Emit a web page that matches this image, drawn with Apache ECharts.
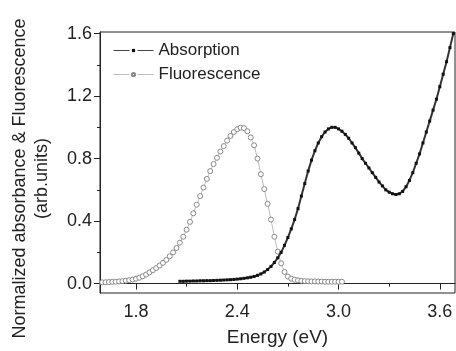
<!DOCTYPE html>
<html>
<head>
<meta charset="utf-8">
<script src="https://cdn.jsdelivr.net/npm/echarts@6/dist/echarts.min.js"></script>
<style>
html, body { margin: 0; padding: 0; background: #fff; }
#con { width: 456px; height: 351px; }
</style>
</head>
<body>
<div id="con"></div>
<script>
// absorption
var absEnergy = [2.06,2.08,2.10,2.12,2.14,2.16,2.18,2.20,2.22,2.24,2.26,2.28,2.30,2.32,2.34,2.36,2.38,2.40,
    2.42,2.44,2.46,2.48,2.50,2.52,2.54,2.56,2.58,2.60,2.62,2.64,2.66,2.68,2.70,2.72,2.74,2.76,2.78,2.80,
    2.82,2.84,2.86,2.88,2.90,2.92,2.94,2.96,2.98,3.00,3.02,3.04,3.06,3.08,3.10,3.12,3.14,3.16,3.18,3.20,
    3.22,3.24,3.26,3.28,3.30,3.32,3.34,3.36,3.38,3.40,3.42,3.44,3.46,3.48,3.50,3.52,3.54,3.56,3.58,3.60,
    3.62,3.64,3.66,3.68];
var absValue = [0.015,0.015,0.016,0.016,0.017,0.017,0.018,0.018,0.019,0.019,0.020,0.021,0.022,0.023,0.024,0.025,0.027,0.029,
    0.031,0.034,0.037,0.041,0.046,0.053,0.062,0.074,0.090,0.110,0.135,0.165,0.200,0.245,0.295,0.35,0.41,0.48,0.56,0.64,
    0.72,0.79,0.85,0.90,0.94,0.97,0.99,1.00,1.00,0.99,0.975,0.955,0.93,0.90,0.87,0.835,0.80,0.77,0.74,0.71,
    0.68,0.65,0.625,0.60,0.585,0.575,0.57,0.575,0.59,0.62,0.66,0.71,0.77,0.83,0.90,0.97,1.04,1.11,1.18,1.26,
    1.34,1.42,1.51,1.60];

// fluorescence
var fluEnergy = [1.60,1.62,1.64,1.66,1.68,1.70,1.72,1.74,1.76,1.78,1.80,1.82,1.84,1.86,1.88,1.90,1.92,1.94,
    1.96,1.98,2.00,2.02,2.04,2.06,2.08,2.10,2.12,2.14,2.16,2.18,2.20,2.22,2.24,2.26,2.28,2.30,2.32,2.34,
    2.36,2.38,2.40,2.42,2.44,2.46,2.48,2.50,2.52,2.54,2.56,2.58,2.60,2.62,2.64,2.66,2.68,2.70,2.72,2.74,
    2.76,2.78,2.80,2.82,2.84,2.86,2.88,2.90,2.92,2.94,2.96,2.98,3.00,3.02];
var fluValue = [0.008,0.009,0.010,0.011,0.012,0.014,0.016,0.019,0.022,0.026,0.031,0.038,0.047,0.058,0.072,0.086,0.100,0.116,
    0.133,0.152,0.175,0.200,0.228,0.262,0.300,0.345,0.395,0.450,0.505,0.560,0.615,0.670,0.720,0.765,0.805,0.845,0.880,0.915,
    0.945,0.970,0.988,0.998,0.995,0.975,0.935,0.885,0.800,0.700,0.605,0.510,0.410,0.300,0.205,0.130,0.075,0.045,0.032,0.025,
    0.021,0.018,0.016,0.015,0.014,0.014,0.013,0.013,0.012,0.012,0.012,0.012,0.012,0.012];

var xMajor = [1.8, 2.4, 3.0, 3.6];
var xMinor = [2.1, 2.7, 3.3];
var yMajor = [0.0, 0.4, 0.8, 1.2, 1.6];
var yMinor = [0.2, 0.6, 1.0, 1.4];

var zip = function(xs, ys) {
    var out = [];
    for (var i = 0; i < xs.length; i++) {
        out.push([xs[i], ys[i]]);
    }
    return out;
};

var font = 'Liberation Sans, Arial, sans-serif';
var ink = '#222';

var myChart = echarts.init(document.getElementById('con'));

var xMin = 1.587, xMax = 3.69, yMin = -0.06, yMax = 1.61;

var option = {
    animation: false,
    grid: {
        left: 100, top: 32, right: 1, bottom: 58,
        outerBoundsMode: 'none',
        show: true, borderColor: ink, borderWidth: 1
    },
    legend: {
        orient: 'vertical',
        left: 108, top: 37,
        itemWidth: 40, itemHeight: 4, itemGap: 7,
        textStyle: { fontFamily: font, fontSize: 17, color: ink },
        data: [
            { name: 'Absorption', lineStyle: { color: '#444', width: 1, type: [16, 8] } },
            { name: 'Fluorescence', lineStyle: { color: '#bbb', width: 1, type: [16, 8] } }
        ]
    },
    xAxis: [
        {
            type: 'value', min: xMin, max: xMax,
            name: 'Energy (eV)', nameLocation: 'middle', nameGap: 35,
            nameTextStyle: { fontFamily: font, fontSize: 19, color: ink },
            axisLine: { lineStyle: { color: ink } },
            axisTick: { show: true, inside: false, length: 6, customValues: xMajor, lineStyle: { color: ink } },
            axisLabel: { customValues: xMajor, margin: 10, fontFamily: font, fontSize: 18, color: ink,
                formatter: function(v) { return v.toFixed(1); } },
            splitLine: { show: false }
        },
        {
            type: 'value', min: xMin, max: xMax, position: 'bottom',
            axisLine: { show: false },
            axisTick: { show: true, length: 3, customValues: xMinor, lineStyle: { color: ink } },
            axisLabel: { show: false },
            splitLine: { show: false }
        }
    ],
    yAxis: [
        {
            type: 'value', min: yMin, max: yMax,
            name: 'Normalized absorbance & Fluorescence\n(arb.units)',
            nameLocation: 'middle', nameGap: 47,
            nameTextStyle: { fontFamily: font, fontSize: 18, color: ink, lineHeight: 22, padding: [0, 32, 0, 0] },
            axisLine: { show: true, lineStyle: { color: ink } },
            axisTick: { show: true, length: 6, customValues: yMajor, lineStyle: { color: ink } },
            axisLabel: { customValues: yMajor, margin: 8, fontFamily: font, fontSize: 18, color: ink,
                formatter: function(v) { return v.toFixed(1); } },
            splitLine: { show: false }
        },
        {
            type: 'value', min: yMin, max: yMax, position: 'left',
            axisLine: { show: false },
            axisTick: { show: true, length: 3, customValues: yMinor, lineStyle: { color: ink } },
            axisLabel: { show: false },
            splitLine: { show: false }
        }
    ],
    series: [
        {
            name: 'Absorption',
            type: 'line',
            data: zip(absEnergy, absValue),
            symbol: 'rect', symbolSize: 3,
            itemStyle: { color: '#111' },
            lineStyle: { color: '#333', width: 2 },
            z: 3
        },
        {
            name: 'Fluorescence',
            type: 'line',
            data: zip(fluEnergy, fluValue),
            symbol: 'circle', symbolSize: 5,
            itemStyle: { color: '#fff', borderColor: '#888', borderWidth: 1 },
            lineStyle: { color: '#bbb', width: 1 },
            z: 2
        }
    ]
};
myChart.setOption(option);
</script>
</body>
</html>
